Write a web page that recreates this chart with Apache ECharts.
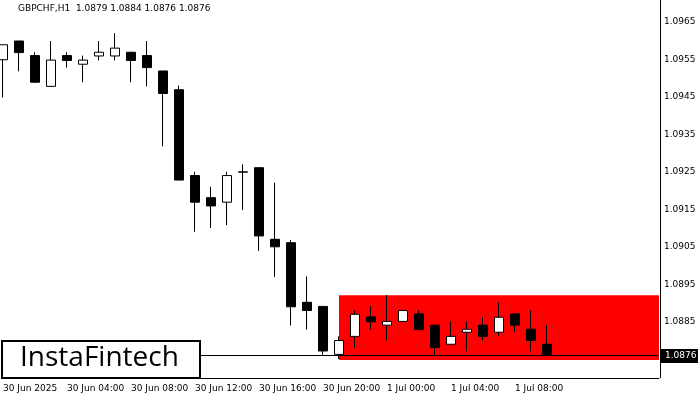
<!DOCTYPE html>
<html><head><meta charset="utf-8">
<script src="https://cdn.jsdelivr.net/npm/echarts@6/dist/echarts.min.js"></script>
<style>html,body{margin:0;padding:0;background:#fff}#c{width:700px;height:400px}</style>
</head><body><div id="c"></div>
<script>
const times = ["30 Jun 2025","30 Jun 01:00","30 Jun 02:00","30 Jun 03:00","30 Jun 04:00","30 Jun 05:00","30 Jun 06:00","30 Jun 07:00","30 Jun 08:00","30 Jun 09:00","30 Jun 10:00","30 Jun 11:00","30 Jun 12:00","30 Jun 13:00","30 Jun 14:00","30 Jun 15:00","30 Jun 16:00","30 Jun 17:00","30 Jun 18:00","30 Jun 19:00","30 Jun 20:00","30 Jun 21:00","30 Jun 22:00","30 Jun 23:00","1 Jul 00:00","1 Jul 01:00","1 Jul 02:00","1 Jul 03:00","1 Jul 04:00","1 Jul 05:00","1 Jul 06:00","1 Jul 07:00","1 Jul 08:00","1 Jul 09:00","1 Jul 10:00"];
const opens  = [1.09549,1.09599,1.09560,1.09478,1.09560,1.09537,1.09559,1.09559,1.09569,1.09560,1.09519,1.09469,1.09240,1.09181,1.09169,1.09249,1.09261,1.09070,1.09061,1.08902,1.08891,1.08763,1.08811,1.08863,1.08841,1.08851,1.08871,1.08841,1.08790,1.08822,1.08841,1.08822,1.08871,1.08830,1.08790];
const closes = [1.09589,1.09568,1.09489,1.09548,1.09547,1.09548,1.09569,1.09580,1.09547,1.09528,1.09459,1.09228,1.09169,1.09159,1.09240,1.09250,1.09079,1.09050,1.08890,1.08880,1.08772,1.08800,1.08870,1.08850,1.08851,1.08880,1.08829,1.08781,1.08811,1.08830,1.08811,1.08862,1.08841,1.08800,1.08761];
const highs  = [1.09589,1.09599,1.09569,1.09599,1.09569,1.09560,1.09599,1.09620,1.09569,1.09599,1.09519,1.09480,1.09250,1.09210,1.09250,1.09270,1.09261,1.09221,1.09068,1.08971,1.08891,1.08811,1.08881,1.08892,1.08921,1.08880,1.08881,1.08841,1.08851,1.08851,1.08863,1.08902,1.08873,1.08881,1.08841];
const lows   = [1.09448,1.09518,1.09489,1.09478,1.09528,1.09489,1.09547,1.09547,1.09489,1.09478,1.09318,1.09228,1.09090,1.09100,1.09108,1.09148,1.09039,1.08970,1.08840,1.08829,1.08762,1.08751,1.08781,1.08829,1.08800,1.08851,1.08829,1.08761,1.08790,1.08771,1.08800,1.08811,1.08822,1.08771,1.08761];
const priceTicks = ["1.0965","1.0955","1.0945","1.0935","1.0925","1.0915","1.0905","1.0895","1.0885"];
const zoneTop = 1.08921, zoneBottom = 1.08748, zoneStart = 21;
const lastPrice = 1.0876;
const header = "GBPCHF,H1  1.0879 1.0884 1.0876 1.0876";

const cats = times.slice();
while (cats.length < 42) cats.push("");
const data = opens.map((o,i)=>[o,closes[i],lows[i],highs[i]]);
const chart = echarts.init(document.getElementById('c'));
chart.setOption({
  animation:false,
  grid:{left:3,width:656,top:8,bottom:22},
  xAxis:{type:'category',data:cats,boundaryGap:false,
    axisLine:{lineStyle:{color:'#000'}},axisTick:{show:false},splitLine:{show:false},
    axisLabel:{interval:0,align:'left',margin:6,color:'#000',fontSize:9,fontFamily:'DejaVu Sans',
      formatter:(v,i)=> (i%4===0 && i<times.length) ? v : ''}},
  yAxis:{type:'value',position:'right',min:1.0870,max:1.09687,interval:0.0005,scale:true,offset:-1,
    splitLine:{show:false},axisLine:{show:false},axisTick:{show:false},
    axisLabel:{margin:6,color:'#000',fontSize:9,fontFamily:'DejaVu Sans',
      formatter:v=>{const s=v.toFixed(4);return priceTicks.includes(s)?s:'';}}},
  series:[
   {type:'line',data:[],z:1,
    markArea:{silent:true,itemStyle:{color:'#ff0000'},
      data:[[{xAxis:zoneStart,yAxis:zoneTop},{xAxis:41,yAxis:zoneBottom}]]}},
   {type:'candlestick',data:data,barWidth:10,z:3,
    itemStyle:{color:'#fff',color0:'#000',borderColor:'#000',borderColor0:'#000',borderWidth:1}},
   {type:'line',data:[],z:5,
    markLine:{silent:true,symbol:'none',label:{show:false},lineStyle:{color:'#000',width:1,type:'solid'},
      data:[[{coord:[0,lastPrice]},{coord:[41,lastPrice]}]]}}
  ],
  graphic:[
    {type:'line',shape:{x1:660.5,y1:0,x2:660.5,y2:378},style:{stroke:'#000',lineWidth:1},z:100},
    {type:'text',left:18,top:4,style:{text:header,font:'9px DejaVu Sans',fill:'#000'},z:100},
    {type:'rect',shape:{x:661,y:349,width:37,height:14},style:{fill:'#000'},z:100},
    {type:'text',x:665,y:351,style:{text:lastPrice.toFixed(4),font:'9px DejaVu Sans',fill:'#fff'},z:101},
    {type:'rect',shape:{x:2,y:341,width:198,height:37},style:{fill:'#fff',stroke:'#000',lineWidth:2},z:100},
    {type:'text',x:20,y:344,style:{text:'InstaFintech',font:'500 28px "Open Sans"',fill:'#000'},z:101}
  ]
});
</script></body></html>
